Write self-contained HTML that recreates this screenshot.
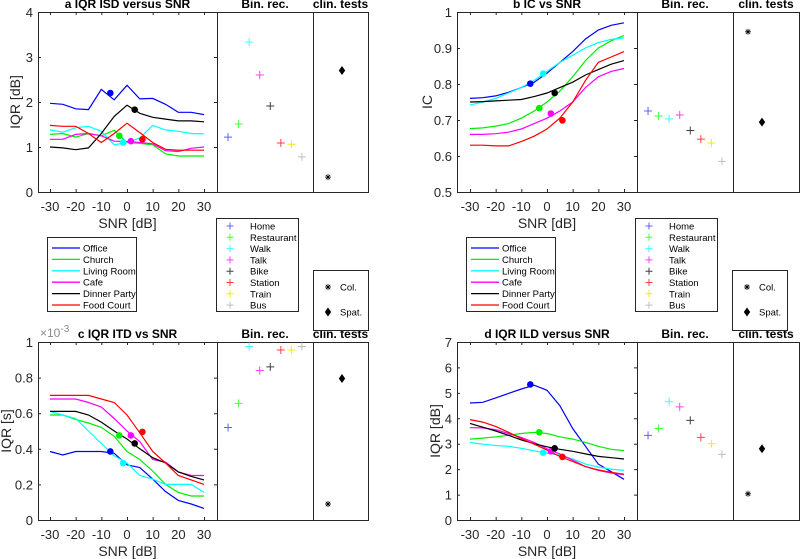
<!DOCTYPE html>
<html><head><meta charset="utf-8"><style>
html,body{margin:0;padding:0;background:#fff;}
svg{display:block;font-family:"Liberation Sans",Arial,sans-serif;}
</style></head><body>
<svg id="fig" width="800" height="559" viewBox="0 0 800 559" xmlns="http://www.w3.org/2000/svg"></svg>
<script>
// ---- data ----
const snr = [-30,-25,-20,-15,-10,-5,0,5,10,15,20,25,30];
const sceneNames = ["Office","Church","Living Room","Cafe","Dinner Party","Food Court"];
const sceneColors = ["#0000ff","#00ee00","#00ffff","#ff00ff","#000000","#ff0000"];
const dotSnr = [-6.5,-3,-1.5,1.5,3,6];
const binNames = ["Home","Restaurant","Walk","Talk","Bike","Station","Train","Bus"];
const binColors = ["#6060ff","#40ff40","#40ffff","#ff40ff","#404040","#ff4040","#eeee00","#bfbfbf"];
const clinNames = ["Col.","Spat."];

// panel a: IQR ISD
const isdOffice = [1.97,1.95,1.85,1.83,2.28,2.05,2.37,2.07,2.08,1.95,1.77,1.77,1.72];
const isdChurch = [1.28,1.30,1.22,1.30,1.25,1.37,1.10,1.08,1.05,0.85,0.80,0.80,0.80];
const isdLiving = [1.38,1.33,1.43,1.46,1.35,1.05,1.10,1.20,1.48,1.38,1.35,1.30,1.29];
const isdCafe   = [1.17,1.17,1.28,1.30,1.25,1.13,1.12,1.10,1.07,0.92,0.90,0.97,1.00];
const isdDinner = [1.00,0.98,0.94,0.98,1.30,1.68,1.93,1.75,1.66,1.62,1.58,1.58,1.56];
const isdFood   = [1.48,1.46,1.46,1.30,1.10,1.30,1.53,1.32,1.10,0.95,0.93,0.93,0.93];
const isdDots = [2.20,1.25,1.10,1.13,1.83,1.17];
const isdBin = [1.22,1.51,3.33,2.60,1.91,1.09,1.06,0.78];
const isdClin = [0.33,2.70];
const isdTicks = [0,1,2,3,4];

// panel b: IC
const icOffice = [0.760,0.762,0.767,0.777,0.790,0.805,0.830,0.860,0.890,0.925,0.950,0.963,0.970];
const icChurch = [0.676,0.678,0.683,0.690,0.705,0.725,0.750,0.780,0.820,0.865,0.900,0.920,0.935];
const icLiving = [0.742,0.750,0.760,0.775,0.790,0.810,0.835,0.860,0.880,0.900,0.915,0.924,0.928];
const icCafe   = [0.660,0.660,0.662,0.666,0.675,0.690,0.705,0.725,0.750,0.790,0.820,0.835,0.843];
const icDinner = [0.750,0.751,0.753,0.755,0.757,0.765,0.775,0.790,0.805,0.825,0.840,0.855,0.865];
const icFood   = [0.630,0.630,0.628,0.628,0.640,0.655,0.675,0.705,0.750,0.810,0.860,0.875,0.890];
const icDots = [0.801,0.733,0.829,0.718,0.775,0.699];
const icBin = [0.725,0.711,0.703,0.714,0.671,0.647,0.636,0.585];
const icClin = [0.945,0.694];
const icTicks = [0.5,0.6,0.7,0.8,0.9,1];

// panel c: IQR ITD (x1e-3 s)
const itdOffice = [0.385,0.365,0.385,0.385,0.385,0.375,0.310,0.295,0.230,0.160,0.110,0.090,0.065];
const itdChurch = [0.590,0.590,0.565,0.545,0.520,0.470,0.385,0.340,0.275,0.200,0.155,0.135,0.135];
const itdLiving = [0.610,0.590,0.570,0.500,0.430,0.360,0.320,0.250,0.230,0.200,0.200,0.200,0.155];
const itdCafe   = [0.680,0.680,0.680,0.660,0.635,0.570,0.500,0.440,0.340,0.325,0.270,0.250,0.250];
const itdDinner = [0.610,0.610,0.610,0.590,0.550,0.500,0.455,0.400,0.350,0.320,0.270,0.245,0.225];
const itdFood   = [0.700,0.700,0.700,0.700,0.680,0.660,0.590,0.490,0.385,0.320,0.250,0.225,0.200];
const itdDots = [0.385,0.475,0.320,0.475,0.430,0.495];
const itdBin = [0.52,0.655,0.975,0.84,0.86,0.955,0.955,0.975];
const itdClin = [0.09,0.795];
const itdTicks = [0,0.2,0.4,0.6,0.8,1];

// panel d: IQR ILD
const ildOffice = [4.60,4.63,4.80,4.98,5.15,5.30,5.10,4.50,3.60,2.90,2.20,1.90,1.60];
const ildChurch = [3.18,3.22,3.27,3.33,3.40,3.45,3.40,3.27,3.18,3.05,2.90,2.78,2.73];
const ildLiving = [3.05,2.98,2.93,2.90,2.82,2.72,2.63,2.55,2.40,2.20,2.08,2.00,1.95];
const ildCafe   = [3.63,3.62,3.55,3.40,3.25,3.05,2.80,2.60,2.35,2.10,1.95,1.85,1.78];
const ildDinner = [3.80,3.65,3.50,3.33,3.15,3.00,2.88,2.78,2.70,2.60,2.50,2.45,2.40];
const ildFood   = [3.95,3.85,3.68,3.45,3.20,2.98,2.75,2.50,2.30,2.10,1.97,1.87,1.80];
const ildDots = [5.33,3.45,2.65,2.70,2.82,2.48];
const ildBin = [3.33,3.60,4.65,4.45,3.92,3.25,3.00,2.58];
const ildClin = [1.03,2.80];
const ildTicks = [0,1,2,3,4,5,6,7];

const xTicks = [-30,-20,-10,0,10,20,30];

// ---- drawing ----
const NS = "http://www.w3.org/2000/svg";
const svg = document.getElementById("fig");
function mk(tag, parent){ const e = document.createElementNS(NS, tag); parent.appendChild(e); return e; }
function txt(parent, x, y, s, size, anchor, weight, fill){
  const t = mk("text", parent);
  t.setAttribute("x", x); t.setAttribute("y", y);
  t.setAttribute("font-size", size); t.setAttribute("text-anchor", anchor||"middle");
  if (weight) t.setAttribute("font-weight", weight);
  t.setAttribute("fill", fill||"#262626");
  t.textContent = s;
  return t;
}
function plus(g, x, y, c, s){
  const p = mk("path", g);
  p.setAttribute("d", `M${x-s},${y}H${x+s}M${x},${y-s}V${y+s}`);
  p.setAttribute("stroke", c); p.setAttribute("stroke-width", 1);
  return p;
}
function star(g, x, y){
  const p = mk("path", g);
  p.setAttribute("d", `M${x-3},${y}H${x+3}M${x},${y-3}V${y+3}M${x-2.2},${y-2.2}L${x+2.2},${y+2.2}M${x-2.2},${y+2.2}L${x+2.2},${y-2.2}`);
  p.setAttribute("stroke", "#000"); p.setAttribute("stroke-width", 0.8);
  return p;
}
function diamond(g, x, y){
  const p = mk("path", g);
  p.setAttribute("d", `M${x},${y-4.5}L${x+3.2},${y}L${x},${y+4.5}L${x-3.2},${y}Z`);
  p.setAttribute("fill", "#000");
  return p;
}

function panel(key, L, title, ylabel, yTicks, ymin, ymax, series, dots, bin, clin, tickFmt, exp){
  const g = mk("g", svg);
  
  
  const sx = v => L.x30n + (v + 30) * (L.x30p - L.x30n) / 60;
  const sy = v => L.bot - (v - ymin) / (ymax - ymin) * (L.bot - L.top);
  // boxes
  const boxes = [[L.x0, L.xm],[L.xm, L.xb],[L.xb, L.xc]];
  const boxNames = ["main-axes","bin-rec-axes","clin-tests-axes"];
  boxes.forEach((b,i)=>{
    const r = mk("rect", g);
    r.setAttribute("x", b[0]+0.5); r.setAttribute("y", L.top+0.5);
    r.setAttribute("width", b[1]-b[0]); r.setAttribute("height", L.bot-L.top);
    r.setAttribute("fill", "none"); r.setAttribute("stroke", "#262626"); r.setAttribute("stroke-width", 1);
    
    
  });
  // y ticks
  const yt = mk("g", g);
  
  
  yTicks.forEach(v=>{
    const y = sy(v);
    const p = mk("path", yt);
    p.setAttribute("d", `M${L.x0},${y+0.5}h3M${L.xm},${y+0.5}h-3`);
    p.setAttribute("stroke", "#262626");
    const t = txt(yt, L.x0-5, y+5, tickFmt(v), 13, "end");
    
    
  });
  // x ticks
  const xt = mk("g", g);
  
  
  xTicks.forEach(v=>{
    const x = sx(v);
    const p = mk("path", xt);
    p.setAttribute("d", `M${x+0.5},${L.bot}v-3M${x+0.5},${L.top}v3`);
    p.setAttribute("stroke", "#262626");
    const t = txt(xt, x, L.bot+19, String(v), 13, "middle");
    
    
  });
  const xl = txt(g, (L.x0+L.xm)/2, L.bot+36, "SNR [dB]", 14, "middle");
  
  
  const yl = txt(g, 0, 0, ylabel, 14, "middle");
  yl.setAttribute("transform", `translate(${L.ylx},${(L.top+L.bot)/2}) rotate(-90)`);
  
  
  if (exp){
    const e = txt(g, L.x0+2, L.top-5, "×10", 12, "start", null, "#8a8a8a");
    const sup = mk("tspan", e); sup.setAttribute("dy", -5); sup.setAttribute("font-size", 10); sup.textContent = "-3";
    
    
  }
  // titles
  const t1 = txt(g, (L.x0+L.xm)/2, L.top-4, title, 12, "middle", "bold", "#000");
  
  
  const t2 = txt(g, (L.xm+L.xb)/2, L.top-4, "Bin. rec.", 12, "middle", "bold", "#000");
  
  
  const t3 = txt(g, (L.xb+L.xc)/2, L.top-4, "clin. tests", 12, "middle", "bold", "#000");
  
  
  // lines
  series.forEach((vals,i)=>{
    const p = mk("polyline", g);
    p.setAttribute("points", vals.map((v,j)=>sx(snr[j]).toFixed(1)+","+sy(v).toFixed(1)).join(" "));
    p.setAttribute("fill", "none"); p.setAttribute("stroke", sceneColors[i]); p.setAttribute("stroke-width", 1.2);
    
    
  });
  dots.forEach((v,i)=>{
    const c = mk("circle", g);
    c.setAttribute("cx", sx(dotSnr[i])); c.setAttribute("cy", sy(v)); c.setAttribute("r", 3.3);
    c.setAttribute("fill", sceneColors[i]);
    
    
  });
  // bin rec
  const bw = (L.xb - L.xm);
  bin.forEach((v,i)=>{
    const x = L.xm + bw*0.115 + i*bw*0.11;
    const p = plus(g, x, sy(v), binColors[i], 4);
    
    
  });
  // clin
  const cw = L.xc - L.xb;
  const s = star(g, L.xb + 15, sy(clin[0]));
  
  
  const d = diamond(g, L.xb + 29, sy(clin[1]));
  
  
}

function legends(key, ox){
  const g = mk("g", svg);
  
  
  // scene legend
  let r = mk("rect", g);
  r.setAttribute("x", ox+47.5); r.setAttribute("y", 237.5); r.setAttribute("width", 89); r.setAttribute("height", 74);
  r.setAttribute("fill", "#fff"); r.setAttribute("stroke", "#262626");
  
  
  sceneNames.forEach((n,i)=>{
    const y = 248 + i*11.4;
    const l = mk("path", g);
    l.setAttribute("d", `M${ox+52},${y}H${ox+80}`);
    l.setAttribute("stroke", sceneColors[i]); l.setAttribute("stroke-width", 1.3);
    
    
    const t = txt(g, ox+83, y+3.5, n, 9.5, "start", null, "#000");
    
    
  });
  // bin legend
  r = mk("rect", g);
  r.setAttribute("x", ox+216.5); r.setAttribute("y", 218.5); r.setAttribute("width", 82); r.setAttribute("height", 93);
  r.setAttribute("fill", "#fff"); r.setAttribute("stroke", "#262626");
  
  
  binNames.forEach((n,i)=>{
    const y = 226 + i*11.3;
    const p = plus(g, ox+230, y, binColors[i], 3.5);
    
    
    const t = txt(g, ox+250, y+3.5, n, 9.5, "start", null, "#000");
    
    
  });
  // clin legend
  r = mk("rect", g);
  r.setAttribute("x", ox+313.5); r.setAttribute("y", 270.5); r.setAttribute("width", 55); r.setAttribute("height", 60);
  r.setAttribute("fill", "#fff"); r.setAttribute("stroke", "#262626");
  
  
  const s = star(g, ox+328, 287);
  
  
  const d = diamond(g, ox+328, 312);
  
  
  clinNames.forEach((n,i)=>{
    const t = txt(g, ox+340, 290.5 + i*25, n, 9.5, "start", null, "#000");
    
    
  });
}

const LA = {x0:38, xm:217, xb:313, xc:368, top:12, bot:192, x30n:50, x30p:204, ylx:20};
const LB = {x0:457, xm:637, xb:733, xc:799, top:12, bot:192, x30n:470, x30p:624, ylx:432};
const LC = {x0:38, xm:217, xb:313, xc:368, top:342, bot:520, x30n:50, x30p:204, ylx:11};
const LD = {x0:457, xm:637, xb:733, xc:799, top:342, bot:520, x30n:470, x30p:624, ylx:440};

const fmtInt = v => String(v);
const fmtDec = v => (v===0||v===1) ? String(v) : v.toFixed(1).replace(/^0/,"0");

panel("a", LA, "a  IQR ISD versus SNR", "IQR [dB]", isdTicks, 0, 4,
  [isdOffice,isdChurch,isdLiving,isdCafe,isdDinner,isdFood], isdDots, isdBin, isdClin, fmtInt, false);
panel("b", LB, "b IC vs SNR", "IC", icTicks, 0.5, 1,
  [icOffice,icChurch,icLiving,icCafe,icDinner,icFood], icDots, icBin, icClin, fmtDec, false);
panel("c", LC, "c IQR ITD vs SNR", "IQR [s]", itdTicks, 0, 1,
  [itdOffice,itdChurch,itdLiving,itdCafe,itdDinner,itdFood], itdDots, itdBin, itdClin, fmtDec, true);
panel("d", LD, "d IQR ILD versus SNR", "IQR [dB]", ildTicks, 0, 7,
  [ildOffice,ildChurch,ildLiving,ildCafe,ildDinner,ildFood], ildDots, ildBin, ildClin, fmtInt, false);
legends("left", 0);
legends("right", 419);
</script>
</body></html>
